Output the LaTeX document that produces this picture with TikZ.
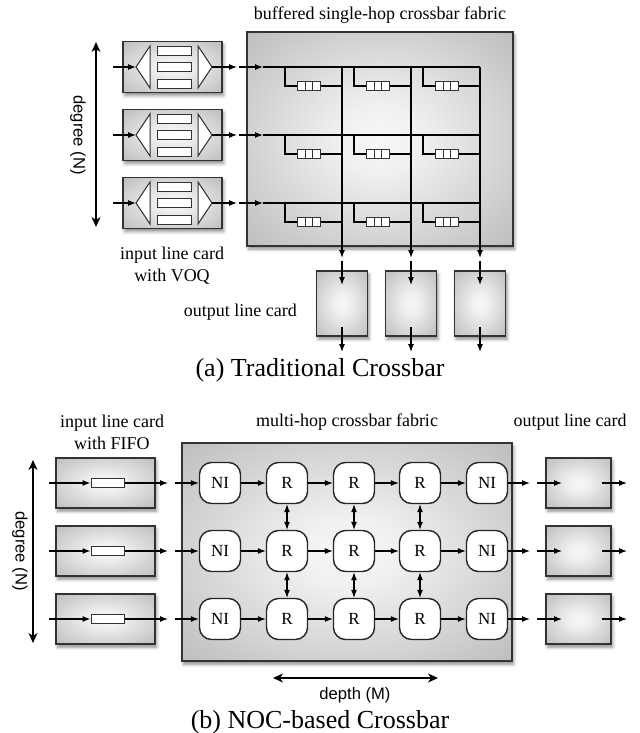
\documentclass[tikz,border=0pt]{standalone}
\usepackage{fontspec}
\setmainfont{Liberation Serif}
\setsansfont{Liberation Sans}
\usetikzlibrary{arrows.meta, positioning, shadows.blur}
\pgfdeclareradialshading{glow}{\pgfpoint{0bp}{0bp}}{color(0bp)=(white!97!black); color(8bp)=(white!94!black); color(50bp)=(black!36); color(72bp)=(black!48)}

\begin{document}
\begin{tikzpicture}[
      x=0.5pt, y=-0.5pt,
      card/.style={draw=black!80, line width=0.8pt, shading=glow, inner sep=0pt,
        blur shadow={shadow xshift=0.8pt, shadow yshift=-1.6pt, shadow blur radius=1.6pt, shadow opacity=45}},
      hop/.style={draw=black!85, line width=0.7pt, fill=white, rounded corners=6pt,
        minimum width=20.5pt, minimum height=20.5pt, inner sep=0pt, font=\fontsize{8.5}{9}\selectfont},
      voq/.style={draw=black!80, line width=0.45pt, fill=white, minimum width=17pt, minimum height=4.5pt, inner sep=0pt},
      fifo/.style={draw=black!80, line width=0.5pt, fill=white, minimum width=16.5pt, minimum height=4.7pt, inner sep=0pt},
      buf/.style={draw=black!80, line width=0.45pt, fill=white, minimum width=11.5pt, minimum height=4.5pt, inner sep=0pt,
        path picture={
          \draw[line width=0.45pt, black!80] ([xshift=-1.9pt]path picture bounding box.north) -- ([xshift=-1.9pt]path picture bounding box.south);
          \draw[line width=0.45pt, black!80] ([xshift=1.9pt]path picture bounding box.north) -- ([xshift=1.9pt]path picture bounding box.south);
        }},
      tri/.style={draw=black!80, line width=0.5pt, fill=white},
      wire/.style={line width=0.55pt},
      arr/.style={-{Latex[length=4pt, width=3pt]}, line width=0.55pt},
      darr/.style={{Latex[length=4pt, width=3pt]}-{Latex[length=4pt, width=3pt]}, line width=0.55pt},
      dimarr/.style={{Stealth[length=5pt, width=4.5pt, inset=1.5pt]}-{Stealth[length=5pt, width=4.5pt, inset=1.5pt]}, line width=0.6pt},
      lbl/.style={font=\fontsize{9}{11}\selectfont, align=center},
      captxt/.style={font=\fontsize{13}{15}\selectfont},
      dimtxt/.style={font=\sffamily\fontsize{8.3}{10}\selectfont}
    ]
    \useasboundingbox (0,0) rectangle (639,733);

    % (a) traditional crossbar
    \node[card, minimum width=133pt, minimum height=107pt] (xbar) at (380,139) {};
    \node[lbl] (xbartitle) at (380,15) {buffered single-hop crossbar fabric};

    \foreach \r/\y in {1/67, 2/135, 3/203} {
      \node[card, minimum width=49.5pt, minimum height=25.5pt] (vin\r) at (172.5,\y) {};
      \node[voq] (q\r a) at (174,\y-16.5) {};
      \node[voq] (q\r b) at (174,\y) {};
      \node[voq] (q\r c) at (174,\y+16.5) {};
      \coordinate (dmx\r) at (136,\y);
      \coordinate (mux\r) at (212,\y);
      \draw[tri] (dmx\r) -- (150,\y-21) -- (150,\y+21) -- cycle;
      \draw[tri] (mux\r) -- (198,\y-21) -- (198,\y+21) -- cycle;
      \coordinate (src\r) at (113,\y);
      \coordinate (gap\r) at (237,\y);
      \coordinate (ent\r) at (239,\y);
      \coordinate (row\r) at (263,\y);
      \coordinate (rowend\r) at (480,\y);
      \draw[arr] (src\r) -- (dmx\r);
      \draw[arr] (mux\r) -- (gap\r);
      \draw[arr] (ent\r) -- (row\r);
      \draw[wire] (row\r) -- (rowend\r);
    }

    \foreach \c/\x in {1/342, 2/411, 3/480} {
      \coordinate (top\c) at (\x,67);
      \coordinate (bot\c) at (\x,258);
      \draw[arr] (top\c) -- (bot\c);
      \node[card, minimum width=25.5pt, minimum height=32.5pt] (vout\c) at (\x,303.5) {};
      \coordinate (cin\c) at (\x,261);
      \coordinate (cmid\c) at (\x,285);
      \coordinate (cdep\c) at (\x,327);
      \coordinate (cend\c) at (\x,352);
      \draw[arr] (cin\c) -- (cmid\c);
      \draw[arr] (cdep\c) -- (cend\c);
      \foreach \r/\y in {1/67, 2/135, 3/203} {
        \node[buf] (buf\r\c) at (\x-33,\y+19) {};
        \coordinate (tap\r\c) at (\x-57,\y);
        \coordinate (join\r\c) at (\x,\y+19);
        \draw[wire] (tap\r\c) |- (buf\r\c.west);
        \draw[wire] (buf\r\c.east) -- (join\r\c);
      }
    }

    \coordinate (degtopa) at (96,42);
    \coordinate (degbota) at (96,227);
    \draw[dimarr] (degtopa) -- (degbota);
    \node[dimtxt, rotate=-90] (dega) at (78,135) {degree (N)};
    \node[lbl] (vinlbl) at (172,266) {input line card\\with VOQ};
    \node[lbl, anchor=east] (voutlbl) at (304,312) {output line card};
    \node[captxt] (capa) at (320,370) {(a) Traditional Crossbar};

    % (b) NOC-based crossbar
    \node[card, minimum width=165pt, minimum height=109pt] (noc) at (347,552) {};
    \node[lbl] (noctitle) at (347,422) {multi-hop crossbar fabric};
    \node[lbl] (finlbl) at (112,432) {input line card\\with FIFO};
    \node[lbl] (foutlbl) at (570,422) {output line card};

    \foreach \r/\y in {1/483, 2/551, 3/619} {
      \node[card, minimum width=49.5pt, minimum height=25pt] (fin\r) at (105.5,\y) {};
      \node[fifo] (fifo\r) at (107.5,\y) {};
      \node[hop] (nin\r) at (220,\y) {NI};
      \node[hop] (ra\r) at (287,\y) {R};
      \node[hop] (rb\r) at (354,\y) {R};
      \node[hop] (rc\r) at (420,\y) {R};
      \node[hop] (nout\r) at (487,\y) {NI};
      \node[card, minimum width=32.5pt, minimum height=25pt] (fout\r) at (578.5,\y) {};
      \coordinate (fsrc\r) at (49,\y);
      \coordinate (fgap\r) at (168,\y);
      \coordinate (fent\r) at (175,\y);
      \coordinate (ogap\r) at (530,\y);
      \coordinate (oent\r) at (537,\y);
      \coordinate (oin\r) at (562,\y);
      \coordinate (odep\r) at (602,\y);
      \coordinate (oend\r) at (627,\y);
      \draw[arr] (fsrc\r) -- (fifo\r);
      \draw[arr] (fifo\r) -- (fgap\r);
      \draw[arr] (fent\r) -- (nin\r);
      \draw[arr] (nin\r) -- (ra\r);
      \draw[arr] (ra\r) -- (rb\r);
      \draw[arr] (rb\r) -- (rc\r);
      \draw[arr] (rc\r) -- (nout\r);
      \draw[arr] (nout\r) -- (ogap\r);
      \draw[arr] (oent\r) -- (oin\r);
      \draw[arr] (odep\r) -- (oend\r);
    }
    \foreach \col in {ra, rb, rc} {
      \draw[darr] (\col1) -- (\col2);
      \draw[darr] (\col2) -- (\col3);
    }

    \coordinate (degtopb) at (33,460);
    \coordinate (degbotb) at (33,643);
    \draw[dimarr] (degtopb) -- (degbotb);
    \node[dimtxt, rotate=-90] (degb) at (20,551) {degree (N)};
    \coordinate (depl) at (273,678);
    \coordinate (depr) at (438,678);
    \draw[dimarr] (depl) -- (depr);
    \node[dimtxt] (depth) at (355,695) {depth (M)};
    \node[captxt] (capb) at (320,722) {(b) NOC-based Crossbar};
  \end{tikzpicture}
\end{document}
